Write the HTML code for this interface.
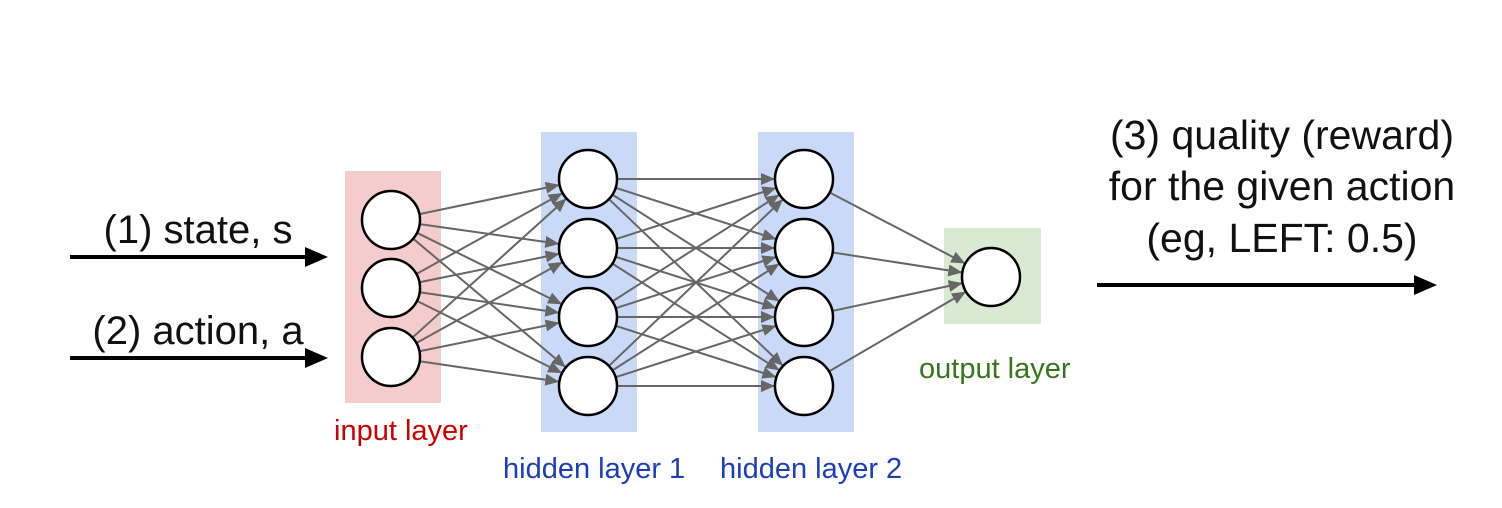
<!DOCTYPE html>
<html><head><meta charset="utf-8"><style>
html,body{margin:0;padding:0;background:#fff;width:1502px;height:508px;overflow:hidden}
svg text{font-family:"Liberation Sans",sans-serif}
</style></head><body>
<svg id="s" width="1502" height="508" viewBox="0 0 1502 508" xmlns="http://www.w3.org/2000/svg">
<defs>
<marker id="g" markerWidth="14" markerHeight="12" refX="13" refY="6" orient="auto" markerUnits="userSpaceOnUse" viewBox="0 0 14 12"><path d="M0,0 L14,6 L0,12 z" fill="#666"/></marker>
</defs>
<rect x="345" y="171" width="96" height="232" fill="#f4cccc"/>
<rect x="541" y="132" width="96" height="300" fill="#c9daf8"/>
<rect x="758" y="132" width="96" height="300" fill="#c9daf8"/>
<rect x="944" y="228" width="97" height="96" fill="#d9ead3"/>
<g id="lines" stroke="#666" stroke-width="2"></g>
<g id="nodes" fill="#fff" stroke="#000" stroke-width="2.5"></g>
<text x="334" y="440" font-size="29" fill="#cc0000">input layer</text>
<text x="503" y="478" font-size="29" fill="#1c3fb8">hidden layer 1</text>
<text x="720" y="478" font-size="29" fill="#1c3fb8">hidden layer 2</text>
<text x="919" y="378" font-size="29" fill="#38761d">output layer</text>
<text x="198" y="243" font-size="40" text-anchor="middle" fill="#111">(1) state, s</text>
<text x="198" y="344" font-size="40" text-anchor="middle" fill="#111">(2) action, a</text>
<text x="1282" y="149" font-size="41" text-anchor="middle" fill="#111">(3) quality (reward)</text>
<text x="1282" y="200" font-size="41" text-anchor="middle" fill="#111">for the given action</text>
<text x="1282" y="252" font-size="41" text-anchor="middle" fill="#111">(eg, LEFT: 0.5)</text>
<g stroke="#000" stroke-width="4"><line x1="70" y1="257" x2="308" y2="257"/><line x1="70" y1="358" x2="308" y2="358"/><line x1="1097" y1="285" x2="1416" y2="285"/></g>
<path d="M305,247 L328,257 L305,267 z M305,348 L328,358 L305,368 z M1414,275 L1437,285 L1414,295 z" fill="#000"/>
</svg>
<script>
var L=[[391,[220,288,357]],[588,[179,248,317,386]],[804,[179,248,317,386]],[991,[277]]];
var r=29,ns="http://www.w3.org/2000/svg",lg=document.getElementById('lines'),ng=document.getElementById('nodes');
for(var i=0;i<3;i++){var a=L[i],b=L[i+1];a[1].forEach(function(y1){b[1].forEach(function(y2){
var dx=b[0]-a[0],dy=y2-y1,d=Math.sqrt(dx*dx+dy*dy);
var l=document.createElementNS(ns,'line');
l.setAttribute('x1',a[0]+dx/d*r);l.setAttribute('y1',y1+dy/d*r);
l.setAttribute('x2',b[0]-dx/d*(r+1));l.setAttribute('y2',y2-dy/d*(r+1));
l.setAttribute('marker-end','url(#g)');lg.appendChild(l);});});}
L.forEach(function(c){c[1].forEach(function(y){var e=document.createElementNS(ns,'circle');
e.setAttribute('cx',c[0]);e.setAttribute('cy',y);e.setAttribute('r',r);ng.appendChild(e);});});
</script>
</body></html>
